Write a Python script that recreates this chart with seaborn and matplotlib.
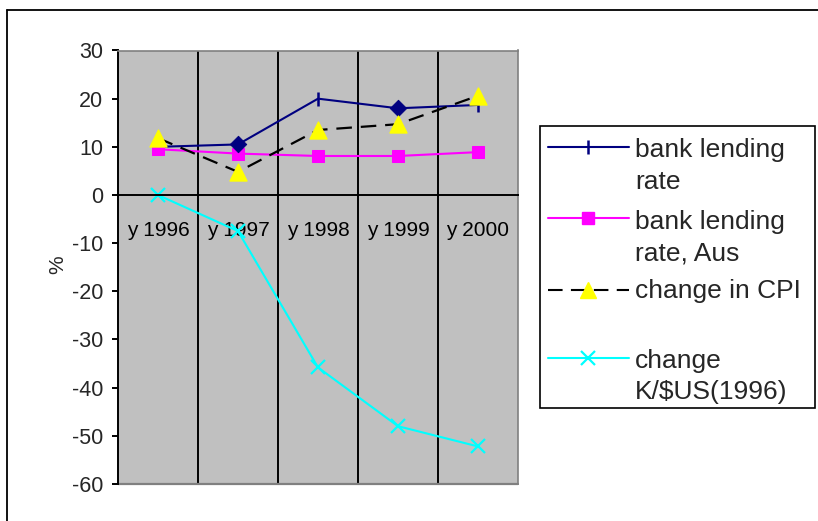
import matplotlib
matplotlib.use("Agg")
import matplotlib.pyplot as plt
import seaborn as sns
import pandas as pd
from matplotlib.lines import Line2D
from matplotlib.patches import Rectangle

# ---- data ----
years = ["y 1996", "y 1997", "y 1998", "y 1999", "y 2000"]
bank_lending = [10.0, 10.5, 20.0, 18.0, 18.7]
bank_lending_aus = [9.5, 8.6, 8.1, 8.1, 8.9]
cpi_change = [11.8, 4.8, 13.5, 14.7, 20.6]
kina_change = [0.0, -7.5, -35.8, -48.0, -52.2]
y_ticks = [30, 20, 10, 0, -10, -20, -30, -40, -50, -60]
legend_labels = ["bank lending\nrate", "bank lending\nrate, Aus",
                 "change in CPI", "change\nK/$US(1996)"]

df = pd.DataFrame({"year": years, "bank": bank_lending, "aus": bank_lending_aus,
                   "cpi": cpi_change, "kina": kina_change})

sns.set_style("white")
plt.rcParams["font.family"] = ["Liberation Sans", "DejaVu Sans"]

W, H = 818, 521
fig = plt.figure(figsize=(W / 100, H / 100), dpi=100)
fx = lambda px: px / W
fy = lambda py: 1 - py / H

ax = fig.add_axes([fx(118), fy(484), fx(518) - fx(118), fy(50.5) - fy(484)])
ax.set_facecolor("#C0C0C0")

navy, mag, cyan = "#000080", "#FF00FF", "#00FFFF"

sns.lineplot(data=df, x="year", y="bank", ax=ax, color=navy, lw=1.5,
             marker="|", markersize=10, mew=1.8, mec=navy, sort=False)
sns.scatterplot(data=df.iloc[[1, 3]], x="year", y="bank", ax=ax, color=navy,
                marker="D", s=70, edgecolor=navy, zorder=3)
sns.lineplot(data=df, x="year", y="aus", ax=ax, color=mag, lw=1.5,
             marker="s", markersize=9, mec=mag, sort=False)
sns.lineplot(data=df, x="year", y="cpi", ax=ax, color="black", lw=1.6,
             dashes=False, sort=False)
ax.lines[-1].set_dashes((7, 4))
sns.scatterplot(data=df, x="year", y="cpi", ax=ax, color="#FFFF00", marker="^",
                s=150, edgecolor="#FFFF00", zorder=4)
sns.lineplot(data=df, x="year", y="kina", ax=ax, color=cyan, lw=1.5,
             marker="x", markersize=10, mew=1.6, mec=cyan, sort=False)

n = len(years)
ax.set_xlim(-0.5, n - 0.5)
ax.set_ylim(min(y_ticks), max(y_ticks))
ax.set_yticks(y_ticks)
ax.set_yticklabels([str(t) for t in y_ticks])
ax.set_xticks(range(n))
ax.set_xticklabels(years)
ax.set_xticks([i - 0.5 for i in range(n + 1)], minor=True)
for b in range(1, n):
    ax.axvline(b - 0.5, color="black", lw=1.4, zorder=1)

ax.spines["bottom"].set_position(("data", 0))
ax.spines["bottom"].set_color("black")
ax.spines["bottom"].set_linewidth(1.4)
ax.spines["left"].set_color("black")
ax.spines["left"].set_linewidth(1.4)
for s in ("top", "right"):
    ax.spines[s].set_color("#808080")
    ax.spines[s].set_linewidth(1.2)
ax.axhline(min(y_ticks), color="#808080", lw=1.6, clip_on=False, zorder=2)

ax.tick_params(axis="x", which="major", length=0, pad=19, labelsize=15, colors="black")
ax.tick_params(axis="x", which="minor", length=4.5, width=1.4, direction="out", color="black")
ax.tick_params(axis="y", which="major", length=4.5, width=1.4, direction="out",
               labelsize=15.5, pad=6, color="black", left=True)
ax.set_xlabel("")
ax.set_ylabel("")
fig.text(fx(58), fy(265), "%", rotation=90, fontsize=15, ha="center", va="center")

# outer frame
fig.add_artist(Line2D([fx(7), 1], [fy(10), fy(10)], transform=fig.transFigure,
                      color="black", lw=1.3))
fig.add_artist(Line2D([fx(7), fx(7)], [0, fy(10)], transform=fig.transFigure,
                      color="black", lw=1.3))

# legend
fig.add_artist(Rectangle((fx(540), fy(408)), fx(815) - fx(540), fy(126) - fy(408),
                         transform=fig.transFigure, fill=False, ec="black", lw=1.2))
handles = [
    dict(color=navy, ls="-", marker="|", ms=10, mew=1.8, mfc=navy, mec=navy),
    dict(color=mag, ls="-", marker="s", ms=9, mew=1, mfc=mag, mec=mag),
    dict(color="black", ls=(0, (7, 4)), marker="^", ms=12, mew=1, mfc="#FFFF00", mec="#FFFF00"),
    dict(color=cyan, ls="-", marker="x", ms=10, mew=1.6, mfc=cyan, mec=cyan),
]
handle_y = [147, 218, 290, 358]
baselines = [(157, 189), (229, 260), (298,), (368, 399)]
for h, hy, lab, bl in zip(handles, handle_y, legend_labels, baselines):
    ls = h.pop("ls")
    col = h["color"]
    fig.add_artist(Line2D([fx(548), fx(629)], [fy(hy), fy(hy)], transform=fig.transFigure,
                          color=col, ls=ls, lw=1.5))
    fig.add_artist(Line2D([fx(588)], [fy(hy)], transform=fig.transFigure,
                          ls="none", marker=h["marker"], ms=h["ms"], mew=h["mew"],
                          mfc=h["mfc"], mec=h["mec"]))
    for line, b in zip(lab.split("\n"), bl):
        fig.text(fx(635), fy(b), line, fontsize=19, ha="left", va="baseline")

fig.savefig("out.png", dpi=100)
